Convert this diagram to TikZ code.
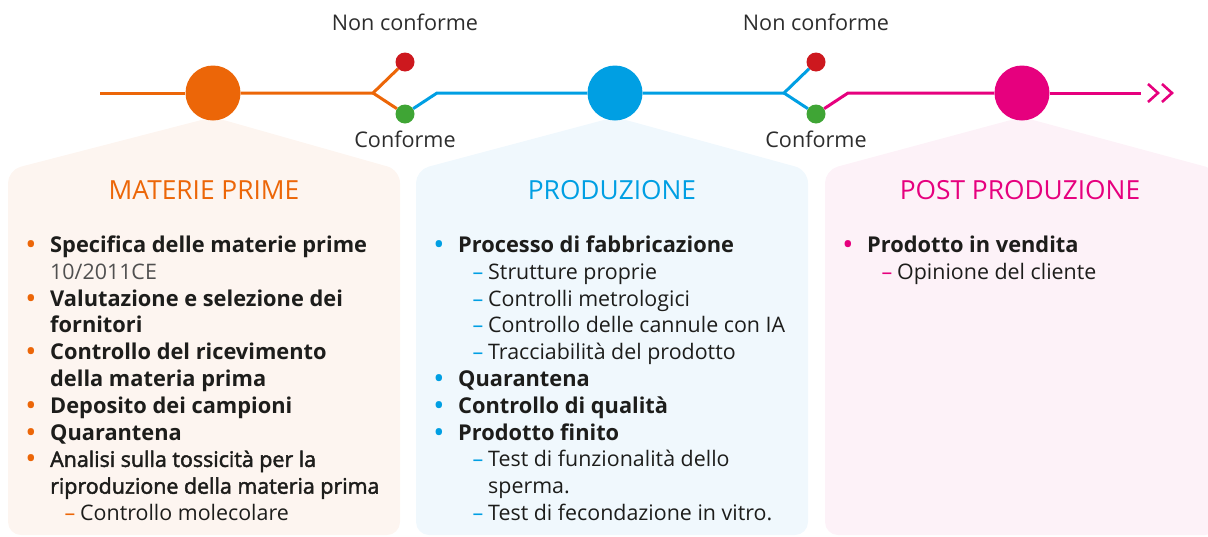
\documentclass[tikz,border=0pt]{standalone}
\usepackage{fontspec}
\setmainfont{Open Sans}
\usetikzlibrary{calc}
\definecolor{cOrange}{RGB}{236,102,8}
\definecolor{cBlue}{RGB}{0,159,227}
\definecolor{cMag}{RGB}{230,0,126}
\definecolor{cRed}{RGB}{205,24,30}
\definecolor{cGreen}{RGB}{63,165,53}
\definecolor{pOrange}{RGB}{253,245,240}
\definecolor{pBlue}{RGB}{240,248,253}
\definecolor{pMag}{RGB}{253,242,248}
\definecolor{cText}{RGB}{29,29,27}
\definecolor{cGray}{RGB}{80,80,80}
\definecolor{cLabel}{RGB}{45,45,45}
\newcommand\semiwt[1]{\special{pdf:literal direct 2 Tr 0.45 w}#1\special{pdf:literal direct 0 Tr}}
\tikzset{
  panel/.style={rounded corners=13pt},
  bigdot/.style={circle, inner sep=0pt, minimum size=55pt},
  smalldot/.style={circle, inner sep=0pt, minimum size=19pt},
  tline/.style={line width=3pt},
  lbl/.style={text=cLabel, font=\fontsize{21.6}{26}\selectfont, inner sep=0pt},
  ttl/.style={font=\fontsize{26.3}{30}\selectfont, inner sep=0pt},
  bul/.style={anchor=base, inner sep=0pt, font=\fontsize{23}{24}\selectfont\bfseries},
  item/.style={anchor=base west, inner sep=0pt, text=cText, font=\fontsize{21.8}{26}\selectfont\bfseries},
  itemm/.style={anchor=base west, inner sep=0pt, text=cText, font=\fontsize{21.4}{26}\selectfont},
  sub/.style={anchor=base west, inner sep=0pt, text=cText, font=\fontsize{21.4}{26}\selectfont},
  dsh/.style={anchor=base, inner sep=0pt, font=\fontsize{21.4}{26}\selectfont},
}
\begin{document}
\begin{tikzpicture}[x=1pt,y=-1pt]
\useasboundingbox (0,0) rectangle (1208,536);
% panels
\fill[pOrange, panel] (213,117) -- (400,170) -- (400,535) -- (8,535) -- (8,170) -- cycle;
\fill[pBlue, panel] (615,117) -- (808,170) -- (808,535) -- (416,535) -- (416,170) -- cycle;
\fill[pMag, panel] (1022,117) -- (1218,170) -- (1218,535) -- (825,535) -- (825,170) -- cycle;
% timeline nodes
\coordinate (s) at (100,93);
\coordinate (b1) at (373,93);
\coordinate (k1) at (437,93);
\coordinate (b2) at (784,93);
\coordinate (k2) at (848,93);
\coordinate (e) at (1141,93);
\node[bigdot, fill=cOrange] (c1) at (213,93) {};
\node[bigdot, fill=cBlue] (c2) at (615,93) {};
\node[bigdot, fill=cMag] (c3) at (1022,93) {};
\node[smalldot, fill=cRed] (r1) at (405,62) {};
\node[smalldot, fill=cGreen] (g1) at (405,114) {};
\node[smalldot, fill=cRed] (r2) at (816,62) {};
\node[smalldot, fill=cGreen] (g2) at (816,114) {};
\draw[tline, cOrange] (s) -- (c1);
\draw[tline, cOrange, line join=round] (c1) -- (b1) -- (r1);
\draw[tline, cOrange] (b1) -- (g1);
\draw[tline, cBlue, line join=round] (g1) -- (k1) -- (c2);
\draw[tline, cBlue, line join=round] (c2) -- (b2) -- (r2);
\draw[tline, cBlue] (b2) -- (g2);
\draw[tline, cMag, line join=round] (g2) -- (k2) -- (c3);
\draw[tline, cMag] (c3) -- (e);
\draw[line width=2.6pt, cMag] ($(e)+(7,-9)$) -- ($(e)+(17,0)$) -- ($(e)+(7,9)$);
\draw[line width=2.6pt, cMag] ($(e)+(21,-9)$) -- ($(e)+(31,0)$) -- ($(e)+(21,9)$);
% labels
\node[lbl] (nc1) at (405,22) {Non conforme};
\node[lbl] (cf1) at (405,139) {Conforme};
\node[lbl] (nc2) at (816,22) {Non conforme};
\node[lbl] (cf2) at (816,139) {Conforme};
% titles
\node[ttl, text=cOrange] (t1) at (204,190) {MATERIE PRIME};
\node[ttl, text=cBlue] (t2) at (612,190) {PRODUZIONE};
\node[ttl, text=cMag] (t3) at (1020,190) {POST PRODUZIONE};
% panel 1
\node[bul, text=cOrange] (p1b1) at (31,252.5) {•};
\node[item] (p1l1) at (50,252.5) {Specifica delle materie prime};
\node[sub, text=cGray] (p1l2) at (50,279.3) {10/2011CE};
\node[bul, text=cOrange] (p1b2) at (31,306.1) {•};
\node[item] (p1l3) at (50,306.1) {Valutazione e selezione dei};
\node[item] (p1l4) at (50,332.9) {fornitori};
\node[bul, text=cOrange] (p1b3) at (31,359.7) {•};
\node[item] (p1l5) at (50,359.7) {Controllo del ricevimento};
\node[item] (p1l6) at (50,386.5) {della materia prima};
\node[bul, text=cOrange] (p1b4) at (31,413.3) {•};
\node[item] (p1l7) at (50,413.3) {Deposito dei campioni};
\node[bul, text=cOrange] (p1b5) at (31,440.1) {•};
\node[item] (p1l8) at (50,440.1) {Quarantena};
\node[bul, text=cOrange] (p1b6) at (31,466.9) {•};
\node[itemm] (p1l9) at (50,466.9) {\semiwt{Analisi sulla tossicità per la}};
\node[itemm] (p1l10) at (50,493.7) {\semiwt{riproduzione della materia prima}};
\node[dsh, text=cOrange] (p1d1) at (70,520.5) {–};
\node[sub] (p1l11) at (80,520.5) {Controllo molecolare};
% panel 2
\node[bul, text=cBlue] (p2b1) at (439,252.5) {•};
\node[item] (p2l1) at (458,252.5) {Processo di fabbricazione};
\node[dsh, text=cBlue] (p2d1) at (478,279.3) {–};
\node[sub] (p2l2) at (488,279.3) {Strutture proprie};
\node[dsh, text=cBlue] (p2d2) at (478,306.1) {–};
\node[sub] (p2l3) at (488,306.1) {Controlli metrologici};
\node[dsh, text=cBlue] (p2d3) at (478,332.9) {–};
\node[sub] (p2l4) at (488,332.9) {Controllo delle cannule con IA};
\node[dsh, text=cBlue] (p2d4) at (478,359.7) {–};
\node[sub] (p2l5) at (488,359.7) {Tracciabilità del prodotto};
\node[bul, text=cBlue] (p2b2) at (439,386.5) {•};
\node[item] (p2l6) at (458,386.5) {Quarantena};
\node[bul, text=cBlue] (p2b3) at (439,413.3) {•};
\node[item] (p2l7) at (458,413.3) {Controllo di qualità};
\node[bul, text=cBlue] (p2b4) at (439,440.1) {•};
\node[item] (p2l8) at (458,440.1) {Prodotto finito};
\node[dsh, text=cBlue] (p2d5) at (478,466.9) {–};
\node[sub] (p2l9) at (488,466.9) {Test di funzionalità dello};
\node[sub] (p2l10) at (488,493.7) {sperma.};
\node[dsh, text=cBlue] (p2d6) at (478,520.5) {–};
\node[sub] (p2l11) at (488,520.5) {Test di fecondazione in vitro.};
% panel 3
\node[bul, text=cMag] (p3b1) at (848,252.5) {•};
\node[item] (p3l1) at (867,252.5) {Prodotto in vendita};
\node[dsh, text=cMag] (p3d1) at (887,279.3) {–};
\node[sub] (p3l2) at (897,279.3) {Opinione del cliente};
\end{tikzpicture}
\end{document}
